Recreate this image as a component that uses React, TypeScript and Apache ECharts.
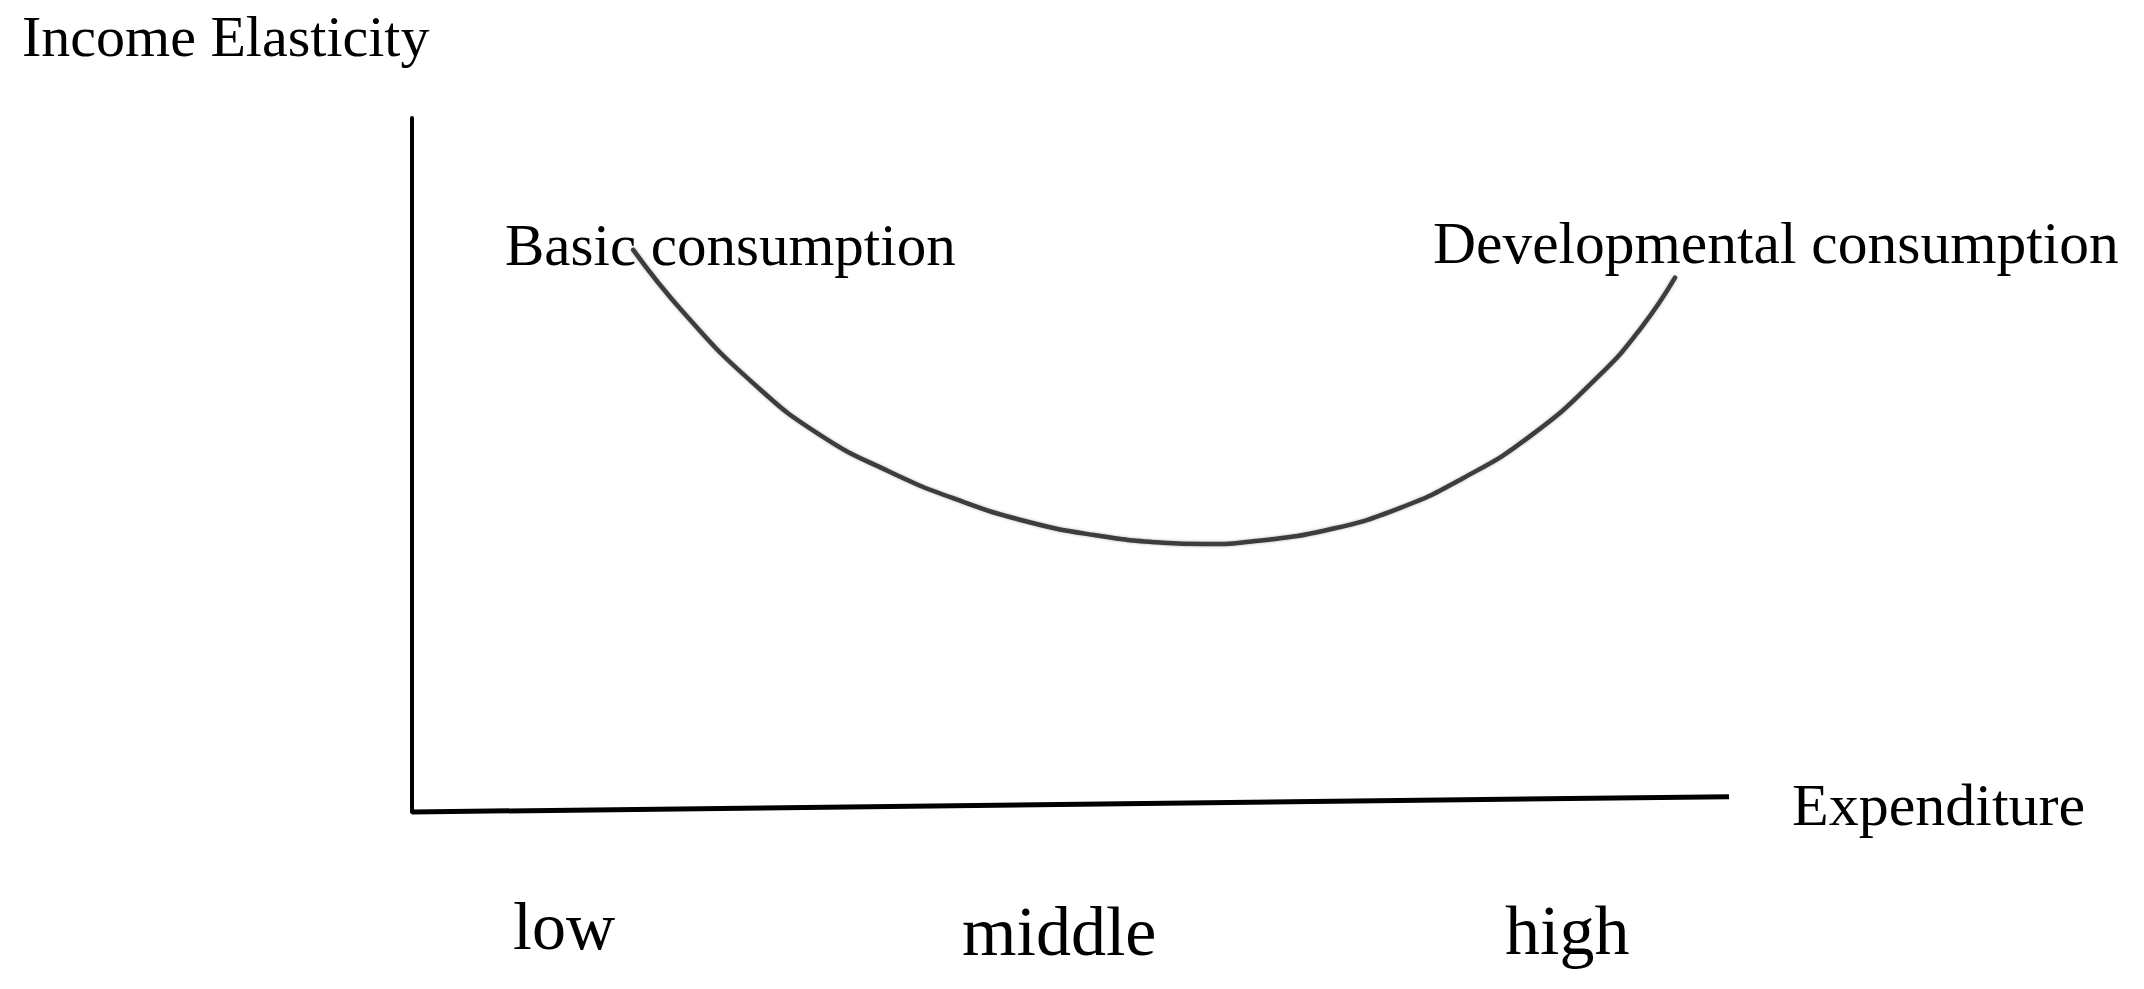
import React, { useEffect, useRef } from "react";
import * as echarts from "echarts";

// Curve: expenditure (x, 0-100) vs income elasticity (y, 0-100)
const curveX = [16.8, 20.7, 25.9, 31.0, 36.3, 41.4, 46.6, 51.8, 57.0, 60.1, 64.3, 69.4, 74.6, 79.8, 85.0, 90.1, 93.3, 95.9];
const curveY = [81.0, 71.8, 61.8, 54.3, 49.0, 45.0, 41.9, 39.9, 38.8, 38.6, 39.1, 40.6, 43.5, 48.1, 54.3, 62.8, 69.7, 77.0];

// Horizontal (expenditure) axis, slightly slanted in the original drawing
const xAxisLineX = [0, 100];
const xAxisLineY = [0, 2.2];

const yAxisTitle = "Income Elasticity";
const xAxisTitle = "Expenditure";
const curveLabels = ["Basic consumption", "Developmental consumption"];
const levelLabels = ["low", "middle", "high"];

const FONT = "'Liberation Serif', 'DejaVu Serif', serif";

export default function App() {
  const ref = useRef<HTMLDivElement>(null);
  useEffect(() => {
    if (!ref.current) return;
    const chart = echarts.init(ref.current, undefined, { renderer: "svg" });
    const curve = curveX.map((x, i) => [x, curveY[i]]);
    const axisLine = xAxisLineX.map((x, i) => [x, xAxisLineY[i]]);
    const txt = (text: string, x: number, y: number, size: number) => ({
      type: "text",
      x,
      y,
      style: {
        text,
        fill: "#000",
        font: `${size}px ${FONT}`,
        align: "left",
        verticalAlign: "middle",
      },
    });
    chart.setOption({
      animation: false,
      backgroundColor: "#ffffff",
      grid: { left: 412, top: 118, width: 1317, height: 694, containLabel: false },
      xAxis: {
        type: "value",
        min: 0,
        max: 100,
        axisLine: { show: false },
        axisTick: { show: false },
        axisLabel: { show: false },
        splitLine: { show: false },
      },
      yAxis: {
        type: "value",
        min: 0,
        max: 100,
        axisLine: { show: true, onZero: false, lineStyle: { color: "#000", width: 4 } },
        axisTick: { show: false },
        axisLabel: { show: false },
        splitLine: { show: false },
      },
      series: [
        {
          type: "line",
          data: axisLine,
          showSymbol: false,
          symbol: "none",
          clip: false,
          lineStyle: { color: "#000", width: 5 },
          silent: true,
        },
        {
          type: "line",
          data: curve,
          smooth: true,
          showSymbol: false,
          symbol: "none",
          clip: false,
          lineStyle: { color: "#3c3c3c", width: 4.5, shadowColor: "rgba(0,0,0,0.3)", shadowBlur: 3, cap: "round", join: "round" },
          silent: true,
        },
      ],
      graphic: [
        txt(yAxisTitle, 22, 36, 58),
        txt(curveLabels[0], 505, 245, 59),
        txt(curveLabels[1], 1433, 243, 59.5),
        txt(xAxisTitle, 1792, 805, 60),
        txt(levelLabels[0], 513, 926, 68),
        txt(levelLabels[1], 962, 931, 70),
        txt(levelLabels[2], 1505, 930, 70),
      ],
    });
    return () => chart.dispose();
  }, []);
  return (
    <div
      ref={ref}
      style={{ position: "fixed", left: 0, top: 0, width: 2144, height: 989, background: "#fff" }}
    />
  );
}
